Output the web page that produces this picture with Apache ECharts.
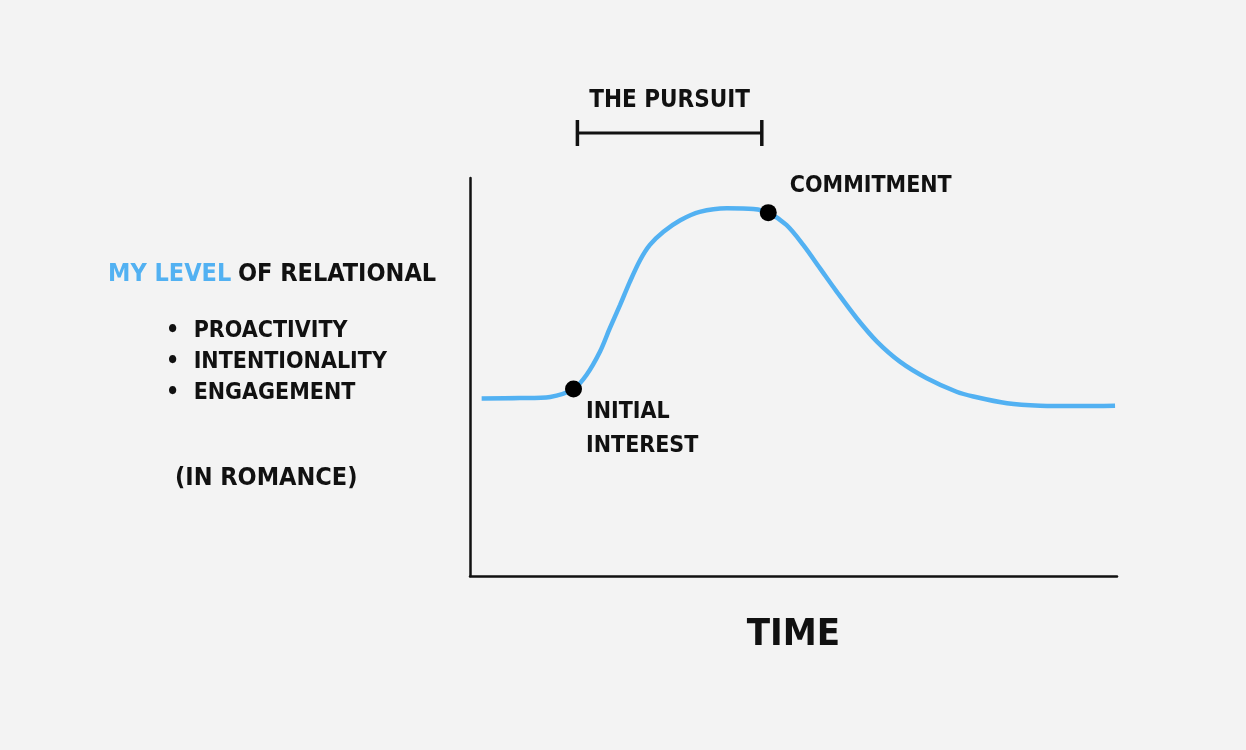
<!DOCTYPE html>
<html><head><meta charset="utf-8">
<script src="https://cdn.jsdelivr.net/npm/echarts@6/dist/echarts.min.js"></script>
<style>html,body{margin:0;padding:0;background:#f3f3f3}#c{width:1246px;height:750px}</style>
</head><body><div id="c"></div>
<script>
// Curve: relational engagement over time
const curveTime  = [1.8, 7.7, 12.4, 16.0, 18.0, 20.1, 21.6, 23.2, 24.7, 26.3, 27.8, 29.9, 32.5, 35.5, 39.7, 43.8, 46.1, 48.9, 51.5, 54.1, 56.7, 59.8, 62.9, 66.5, 70.6, 75.2, 77.8, 83.0, 88.1, 94.3, 99.7];
const curveLevel = [44.6, 44.7, 45.0, 47.0, 50.5, 56.4, 62.2, 68.1, 73.9, 79.4, 83.2, 86.5, 89.4, 91.5, 92.4, 92.2, 91.3, 88.2, 83.2, 77.3, 71.4, 64.7, 58.9, 53.8, 49.7, 46.3, 45.1, 43.4, 42.8, 42.7, 42.8];
// Milestones
const milestoneNames = ['INITIAL\nINTEREST', 'COMMITMENT'];
const milestoneTime  = [16.0, 46.1];
const milestoneLevel = [47.0, 91.3];
// The pursuit bracket
const pursuitLabel = 'THE PURSUIT';
const pursuitTime  = [16.6, 45.1];
const pursuitLevel = 111.3;
// Axis texts
const xAxisName = 'TIME';
const yTitleBlue = 'MY LEVEL';
const yTitleBlack = 'OF RELATIONAL';
const yBullets = ['PROACTIVITY', 'INTENTIONALITY', 'ENGAGEMENT'];
const yNote = '(IN ROMANCE)';

const FONT = '"DejaVu Sans Condensed", "DejaVu Sans", sans-serif';
const BLUE = '#52b1f2';
const INK = '#111';

const chart = echarts.init(document.getElementById('c'), null, {renderer: 'canvas'});
const curve = curveTime.map((t, i) => [t, curveLevel[i]]);
const milestones = milestoneTime.map((t, i) => ({value: [t, milestoneLevel[i]], name: milestoneNames[i]}));

chart.setOption({
  backgroundColor: '#f3f3f3',
  animation: false,
  grid: {left: 470, top: 178, width: 647, height: 398, containLabel: false},
  xAxis: {
    type: 'value', min: 0, max: 100,
    axisLine: {show: true, onZero: false, lineStyle: {color: INK, width: 2.5}},
    axisTick: {show: false}, axisLabel: {show: false}, splitLine: {show: false},
    name: xAxisName, nameLocation: 'middle', nameGap: 40,
    nameTextStyle: {fontFamily: FONT, fontWeight: 'bold', fontSize: 38, color: INK}
  },
  yAxis: {
    type: 'value', min: 0, max: 100,
    axisLine: {show: true, onZero: false, lineStyle: {color: INK, width: 2.5}},
    axisTick: {show: false}, axisLabel: {show: false}, splitLine: {show: false}
  },
  series: [
    {
      type: 'line', data: curve, smooth: 0.3, showSymbol: false, clip: false,
      lineStyle: {color: BLUE, width: 4.5}, z: 2
    },
    {
      type: 'scatter', data: milestones, symbolSize: 17, itemStyle: {color: '#000', opacity: 1}, z: 3,
      label: {
        show: true, formatter: p => p.name, color: INK, fontFamily: FONT, fontWeight: 'bold',
        fontSize: 23, lineHeight: 34, align: 'left', verticalAlign: 'middle'
      },
      labelLayout: function (params) {
        const r = params.rect;
        if (params.dataIndex === 0) return {x: r.x + 21, y: r.y + r.height / 2 + 40, align: 'left', verticalAlign: 'middle'};
        return {x: r.x + r.width + 13, y: r.y + r.height / 2 - 27, align: 'left', verticalAlign: 'middle'};
      }
    },
    {
      type: 'line', data: pursuitTime.map(t => [t, pursuitLevel]), clip: false,
      symbol: 'rect', symbolSize: [3.5, 26], showSymbol: true, itemStyle: {color: INK},
      lineStyle: {color: INK, width: 3}, z: 2
    },
    {
      type: 'scatter', clip: false, symbolSize: 1, itemStyle: {color: 'rgba(0,0,0,0)', opacity: 1},
      data: [{value: [(pursuitTime[0] + pursuitTime[1]) / 2, pursuitLevel], name: pursuitLabel}],
      label: {show: true, formatter: p => p.name, position: 'top', distance: 20, color: INK,
        fontFamily: FONT, fontWeight: 'bold', fontSize: 24}
    }
  ],
  graphic: [
    {
      type: 'text', left: 108, top: 262,
      style: {
        text: '{b|' + yTitleBlue + '}  {k|' + yTitleBlack + '}',
        rich: {
          b: {fill: BLUE, fontFamily: FONT, fontWeight: 'bold', fontSize: 25},
          k: {fill: INK, fontFamily: FONT, fontWeight: 'bold', fontSize: 25}
        }
      }
    },
    {
      type: 'text', left: 166, top: 316,
      style: {
        text: yBullets.map(s => '•  ' + s).join('\n'),
        fill: INK, fontFamily: FONT, fontWeight: 'bold', fontSize: 23, lineHeight: 31
      }
    },
    {
      type: 'text', left: 175, top: 466,
      style: {text: yNote, fill: INK, fontFamily: FONT, fontWeight: 'bold', fontSize: 25}
    }
  ]
});
</script>
</body></html>
